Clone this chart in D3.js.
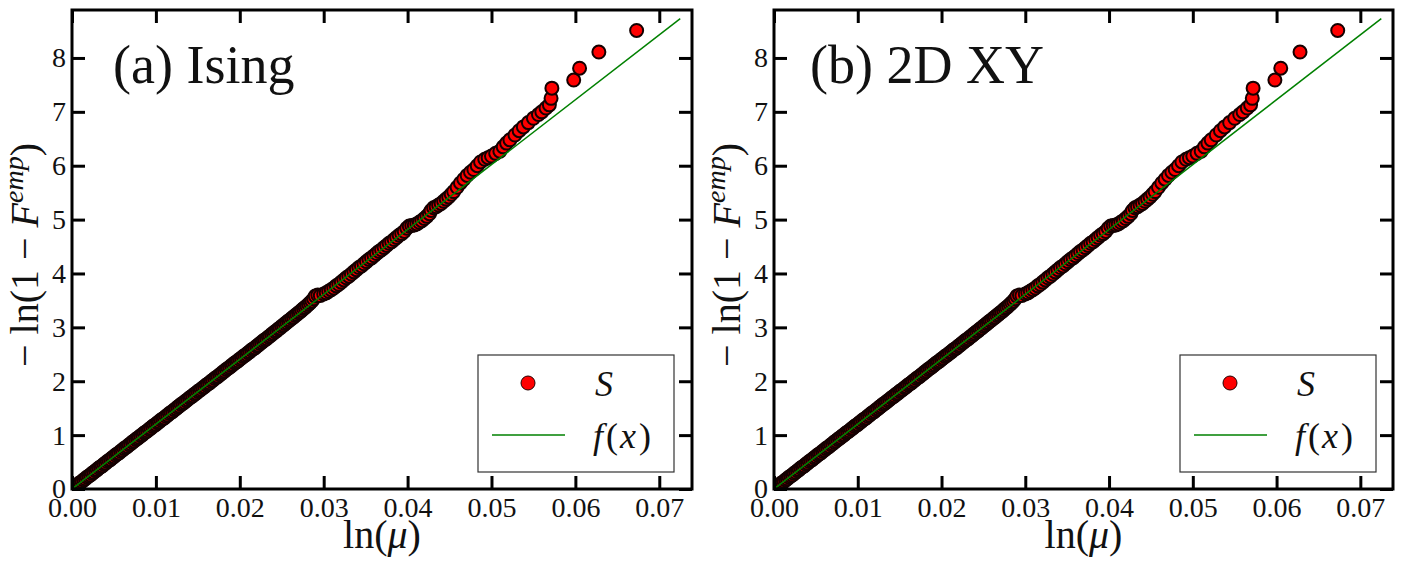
<!DOCTYPE html>
<html>
<head>
<meta charset="utf-8">
<script src="https://cdn.jsdelivr.net/npm/d3@7"></script>
<style>
body { margin: 0; background: #fff; }
svg text { font-family: "Liberation Serif", "DejaVu Serif", serif; fill: #111; }
</style>
</head>
<body>
<svg id="chart" width="1404" height="576"></svg>
<script>
var lnMu = [
  0.0000,0.0002,0.0004,0.0006,0.0008,0.0010,0.0012,0.0014,0.0016,0.0018,
  0.0020,0.0022,0.0024,0.0026,0.0028,0.0030,0.0032,0.0034,0.0036,0.0038,
  0.0040,0.0042,0.0044,0.0046,0.0048,0.0050,0.0052,0.0054,0.0056,0.0058,
  0.0060,0.0062,0.0064,0.0066,0.0068,0.0070,0.0072,0.0074,0.0076,0.0078,
  0.0080,0.0082,0.0084,0.0086,0.0088,0.0090,0.0092,0.0094,0.0096,0.0098,
  0.0100,0.0102,0.0104,0.0106,0.0108,0.0110,0.0112,0.0114,0.0116,0.0118,
  0.0120,0.0122,0.0124,0.0126,0.0128,0.0130,0.0132,0.0134,0.0136,0.0138,
  0.0140,0.0142,0.0144,0.0146,0.0148,0.0150,0.0152,0.0154,0.0156,0.0158,
  0.0160,0.0162,0.0164,0.0166,0.0168,0.0170,0.0172,0.0174,0.0176,0.0178,
  0.0180,0.0182,0.0184,0.0186,0.0188,0.0190,0.0192,0.0194,0.0196,0.0198,
  0.0200,0.0202,0.0204,0.0206,0.0208,0.0210,0.0212,0.0214,0.0216,0.0218,
  0.0220,0.0222,0.0224,0.0226,0.0228,0.0230,0.0232,0.0234,0.0236,0.0238,
  0.0240,0.0242,0.0244,0.0246,0.0248,0.0250,0.0252,0.0254,0.0256,0.0258,
  0.0260,0.0262,0.0264,0.0266,0.0268,0.0270,0.0272,0.0274,0.0276,0.0278,
  0.0280,0.0282,0.0284,0.0286,0.0288,0.0290,0.0293,0.0296,
  0.0300,0.0303,0.0306,0.0309,0.0312,0.0315,0.0318,0.0321,0.0324,0.0327,
  0.0330,0.0333,0.0336,0.0339,0.0342,0.0345,0.0348,0.0351,0.0354,0.0357,
  0.0360,0.0363,0.0366,0.0369,0.0372,0.0375,0.0378,0.0381,0.0384,0.0387,
  0.0390,0.0393,0.0396,0.0399,0.0402,0.0405,0.0408,0.0411,0.0414,0.0417,
  0.0420,0.0423,0.0426,0.0428,0.0431,0.0434,0.0437,0.0440,0.0443,0.0446,
  0.0449,0.0452,0.0455,0.0459,0.0463,0.0467,0.0471,0.0475,0.0479,0.0483,
  0.0487,0.0492,0.0496,0.0500,0.0505,0.0510,0.0514,0.0518,0.0522,0.0528,
  0.0533,0.0538,0.0544,0.0550,0.0556,0.0560,0.0565,0.0569,0.0571,0.0572,
  0.0598,0.0605,0.0628,0.0673
];
var negLnF = [
  0.00,0.02,0.05,0.07,0.10,0.12,0.14,0.17,0.19,0.22,
  0.24,0.26,0.29,0.31,0.34,0.36,0.39,0.41,0.43,0.46,
  0.48,0.51,0.53,0.55,0.58,0.60,0.63,0.65,0.67,0.70,
  0.72,0.75,0.77,0.79,0.82,0.84,0.87,0.89,0.92,0.94,
  0.96,0.99,1.01,1.04,1.06,1.08,1.11,1.13,1.16,1.18,
  1.20,1.23,1.25,1.28,1.30,1.32,1.35,1.37,1.40,1.42,
  1.44,1.47,1.49,1.52,1.54,1.57,1.59,1.61,1.64,1.66,
  1.69,1.71,1.73,1.76,1.78,1.81,1.83,1.85,1.88,1.90,
  1.93,1.95,1.97,2.00,2.02,2.05,2.07,2.09,2.12,2.14,
  2.17,2.19,2.22,2.24,2.26,2.29,2.31,2.34,2.36,2.38,
  2.41,2.43,2.46,2.48,2.50,2.53,2.55,2.58,2.60,2.62,
  2.65,2.67,2.70,2.72,2.75,2.77,2.79,2.82,2.84,2.87,
  2.89,2.92,2.94,2.97,2.99,3.02,3.04,3.07,3.09,3.12,
  3.14,3.17,3.19,3.22,3.24,3.27,3.29,3.32,3.35,3.37,
  3.40,3.43,3.46,3.49,3.53,3.58,3.60,3.59,
  3.62,3.64,3.67,3.70,3.73,3.77,3.80,3.84,3.88,3.92,
  3.95,3.99,4.03,4.07,4.11,4.14,4.18,4.22,4.26,4.29,
  4.33,4.37,4.41,4.44,4.48,4.52,4.56,4.59,4.63,4.67,
  4.71,4.74,4.78,4.84,4.88,4.89,4.90,4.92,4.95,4.98,
  5.02,5.06,5.11,5.17,5.22,5.24,5.27,5.30,5.34,5.38,
  5.42,5.47,5.52,5.60,5.68,5.75,5.82,5.88,5.93,6.00,
  6.07,6.12,6.15,6.18,6.23,6.27,6.35,6.42,6.48,6.57,
  6.65,6.72,6.80,6.88,6.95,7.00,7.07,7.13,7.25,7.44,
  7.59,7.81,8.11,8.51
];
// fitted line f(x)
var fitMu = [0, 0.0725];
var fitF = [0, 8.73];

var xTicks = [0, 0.01, 0.02, 0.03, 0.04, 0.05, 0.06, 0.07];
var yTicks = [0, 1, 2, 3, 4, 5, 6, 7, 8];
var panelTitles = ["(a) Ising", "(b) 2D XY"];

var serif = '"Liberation Serif", "DejaVu Serif", serif';
var svg = d3.select("#chart");
var panelLeft = [72, 774];
var panelW = [620, 619];
var titleOff = [41, 36];
var plotTop = 10, plotH = 479;

function drawPanel(p) {
    var w = panelW[p];
    var g = svg.append("g").attr("transform", "translate(" + panelLeft[p] + "," + plotTop + ")");

    var x = d3.scaleLinear().domain([0, 0.0739]).range([0, w]);
    var y = d3.scaleLinear().domain([0, 8.89]).range([plotH, 0]);

    g.append("clipPath").attr("id", "clip" + p)
        .append("rect").attr("width", w).attr("height", plotH);

    var plot = g.append("g").attr("clip-path", "url(#clip" + p + ")");

    // scatter of S
    plot.selectAll("circle").data(lnMu)
        .enter().append("circle")
        .attr("cx", function (d) { return x(d); })
        .attr("cy", function (d, i) { return y(negLnF[i]); })
        .attr("r", 6.5)
        .attr("fill", "#ff0000")
        .attr("stroke", "#140000")
        .attr("stroke-width", 2);

    // f(x)
    var line = d3.line()
        .x(function (d) { return x(d); })
        .y(function (d, i) { return y(fitF[i]); });
    plot.append("path").attr("d", line(fitMu))
        .attr("fill", "none").attr("stroke", "#008000").attr("stroke-width", 1.5);

    // axes, ticks pointing inward on all four sides
    var xa = g.append("g").attr("transform", "translate(0," + plotH + ")")
        .call(d3.axisBottom(x).tickValues(xTicks).tickFormat(d3.format(".2f")).tickSize(-13).tickPadding(8));
    var xt = g.append("g")
        .call(d3.axisTop(x).tickValues(xTicks).tickFormat("").tickSize(-13));
    var ya = g.append("g")
        .call(d3.axisLeft(y).tickValues(yTicks).tickFormat(d3.format("d")).tickSize(-13).tickPadding(6));
    var yr = g.append("g").attr("transform", "translate(" + w + ",0)")
        .call(d3.axisRight(y).tickValues(yTicks).tickFormat("").tickSize(-13));
    [xa, xt, ya, yr].forEach(function (a) {
        a.attr("font-family", null);
        a.select(".domain").remove();
        a.selectAll(".tick line").attr("stroke", "#000").attr("stroke-width", 3);
        a.selectAll("text").attr("font-size", 28).style("font-family", serif).attr("fill", "#222");
    });

    g.append("rect").attr("width", w).attr("height", plotH)
        .attr("fill", "none").attr("stroke", "#000").attr("stroke-width", 3);

    // panel title
    g.append("text").attr("x", titleOff[p]).attr("y", 73)
        .attr("font-size", 54).attr("fill", "#000").style("font-family", serif).text(panelTitles[p]);

    // axis labels
    var xl = g.append("text").attr("x", w / 2).attr("y", 538)
        .attr("text-anchor", "middle").attr("font-size", 40).style("font-family", serif);
    xl.append("tspan").text("ln(");
    xl.append("tspan").attr("font-style", "italic").text("\u03bc");
    xl.append("tspan").text(")");

    var yl = g.append("text").attr("transform", "translate(-34," + 245 + ") rotate(-90)")
        .attr("text-anchor", "middle").attr("font-size", 40).style("font-family", serif);
    yl.append("tspan").text("\u2212 ln(1 \u2212 ");
    yl.append("tspan").attr("font-style", "italic").text("F");
    yl.append("tspan").attr("font-style", "italic").attr("font-size", 28).attr("dy", -15).text("emp");
    yl.append("tspan").attr("dy", 15).text(")");

    // legend
    var lg = g.append("g").attr("transform", "translate(406,345)");
    lg.append("rect").attr("width", 196).attr("height", 117)
        .attr("fill", "#fff").attr("stroke", "#333").attr("stroke-width", 1.2);
    lg.append("circle").attr("cx", 50).attr("cy", 28).attr("r", 7)
        .attr("fill", "#ff0000").attr("stroke", "#220000").attr("stroke-width", 1);
    lg.append("line").attr("x1", 14).attr("x2", 87).attr("y1", 80).attr("y2", 80)
        .attr("stroke", "#008000").attr("stroke-width", 1.5);
    lg.append("text").attr("x", 117).attr("y", 41).attr("font-size", 36)
        .style("font-family", serif).attr("font-style", "italic").text("S");
    var ft = lg.append("text").attr("x", 115).attr("y", 93).attr("font-size", 36).style("font-family", serif);
    ft.append("tspan").attr("font-style", "italic").text("f");
    ft.append("tspan").attr("dx", 3).text("(");
    ft.append("tspan").attr("dx", 2).attr("font-style", "italic").text("x");
    ft.append("tspan").attr("dx", 3).text(")");
}

drawPanel(0);
drawPanel(1);
</script>
</body>
</html>
